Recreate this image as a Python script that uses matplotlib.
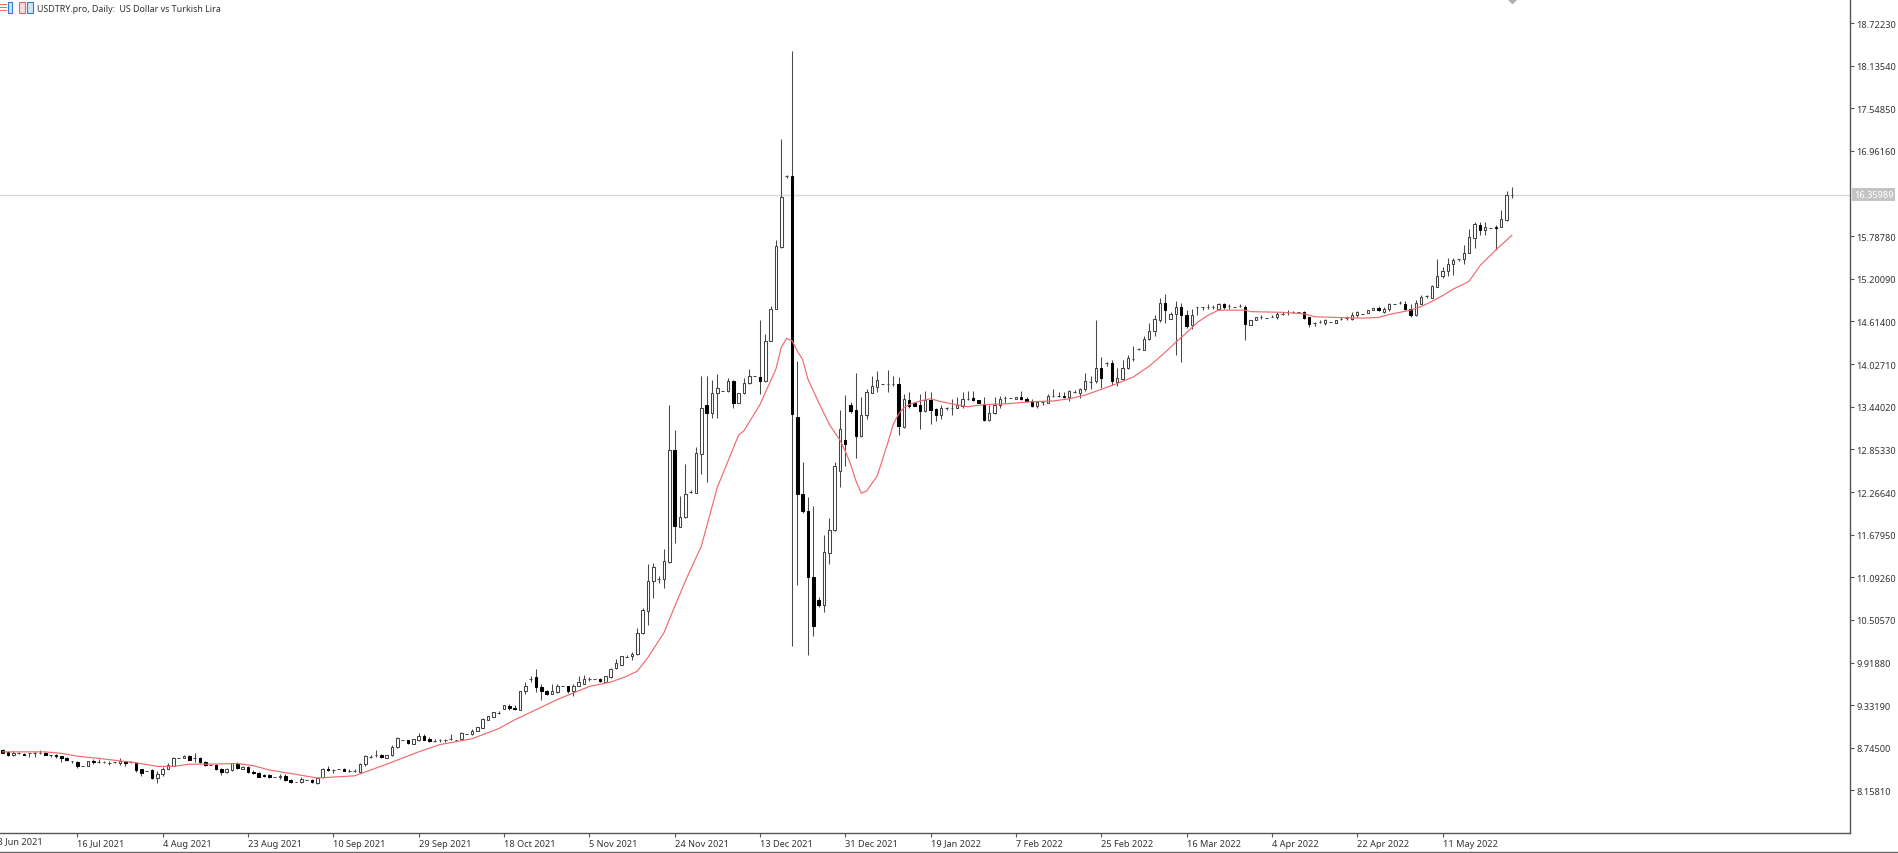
import matplotlib
matplotlib.use("Agg")
import matplotlib.pyplot as plt
from matplotlib.lines import Line2D
from matplotlib.patches import Rectangle

plot_fname = "out.png"

# daily candles, one value per bar
opens = [8.71, 8.69, 8.65, 8.68, 8.66, 8.67, 8.68, 8.68, 8.68, 8.64, 8.65, 8.63, 8.61, 8.56, 8.55, 8.50, 8.49, 8.57, 8.55, 8.55,
         8.54, 8.55, 8.54, 8.56, 8.55, 8.54, 8.45, 8.43, 8.44, 8.33, 8.38, 8.46, 8.50, 8.61, 8.60, 8.63, 8.60, 8.61, 8.55, 8.51,
         8.51, 8.45, 8.41, 8.44, 8.52, 8.45, 8.48, 8.41, 8.40, 8.37, 8.37, 8.34, 8.34, 8.36, 8.30, 8.27, 8.27, 8.30, 8.30, 8.26,
         8.34, 8.46, 8.44, 8.45, 8.46, 8.43, 8.42, 8.41, 8.52, 8.62, 8.64, 8.65, 8.60, 8.64, 8.75, 8.86, 8.85, 8.80, 8.86, 8.91,
         8.87, 8.84, 8.85, 8.85, 8.87, 8.86, 8.87, 8.93, 8.93, 8.98, 9.02, 9.13, 9.17, 9.23, 9.28, 9.32, 9.30, 9.27, 9.53, 9.69,
         9.72, 9.58, 9.53, 9.49, 9.52, 9.59, 9.59, 9.53, 9.59, 9.63, 9.69, 9.69, 9.69, 9.65, 9.72, 9.85, 9.89, 10.00, 10.01, 10.04,
         10.32, 10.63, 11.04, 11.07, 11.07, 11.31, 12.85, 11.79, 11.92, 12.26, 12.25, 12.79, 13.46, 13.35, 13.63, 13.66, 13.66, 13.79, 13.49, 13.63,
         13.77, 13.86, 13.85, 13.79, 14.35, 14.78, 15.64, 16.61, 16.61, 13.30, 12.24, 12.01, 11.09, 10.78, 10.71, 11.43, 11.74, 12.56, 12.98, 13.47,
         13.39, 13.04, 13.33, 13.63, 13.71, 13.76, 13.76, 13.76, 13.75, 13.16, 13.54, 13.49, 13.46, 13.38, 13.53, 13.41, 13.32, 13.42, 13.43, 13.43,
         13.45, 13.55, 13.56, 13.53, 13.47, 13.26, 13.35, 13.46, 13.56, 13.56, 13.55, 13.58, 13.55, 13.52, 13.45, 13.50, 13.49, 13.59, 13.59, 13.59,
         13.57, 13.64, 13.63, 13.68, 13.78, 13.80, 13.98, 14.04, 14.04, 13.78, 13.82, 13.97, 14.10, 14.24, 14.22, 14.37, 14.48, 14.64, 14.87, 14.65,
         14.72, 14.81, 14.71, 14.56, 14.82, 14.81, 14.81, 14.81, 14.79, 14.85, 14.83, 14.82, 14.83, 14.81, 14.57, 14.64, 14.68, 14.66, 14.68, 14.67,
         14.72, 14.74, 14.74, 14.74, 14.74, 14.67, 14.59, 14.61, 14.59, 14.61, 14.60, 14.65, 14.66, 14.65, 14.70, 14.72, 14.73, 14.77, 14.80, 14.75,
         14.78, 14.86, 14.87, 14.86, 14.78, 14.70, 14.85, 14.96, 14.94, 15.09, 15.24, 15.31, 15.41, 15.47, 15.47, 15.56, 15.77, 15.94, 15.88, 15.90,
         15.92, 15.91, 16.01, 16.36]
highs = [8.73, 8.70, 8.70, 8.69, 8.67, 8.67, 8.70, 8.71, 8.69, 8.64, 8.66, 8.63, 8.62, 8.57, 8.56, 8.50, 8.57, 8.59, 8.59, 8.56,
         8.56, 8.55, 8.61, 8.57, 8.57, 8.55, 8.46, 8.43, 8.46, 8.42, 8.48, 8.53, 8.62, 8.61, 8.64, 8.65, 8.68, 8.62, 8.57, 8.51,
         8.52, 8.47, 8.47, 8.54, 8.55, 8.50, 8.49, 8.44, 8.41, 8.39, 8.39, 8.34, 8.38, 8.38, 8.32, 8.27, 8.35, 8.30, 8.31, 8.34,
         8.47, 8.50, 8.45, 8.45, 8.47, 8.46, 8.45, 8.54, 8.64, 8.64, 8.71, 8.66, 8.64, 8.78, 8.89, 8.86, 8.86, 8.87, 8.95, 8.93,
         8.89, 8.87, 8.87, 8.87, 8.93, 8.86, 8.96, 8.93, 9.00, 9.03, 9.16, 9.18, 9.24, 9.25, 9.33, 9.35, 9.34, 9.53, 9.65, 9.73,
         9.83, 9.62, 9.54, 9.63, 9.63, 9.59, 9.60, 9.62, 9.74, 9.75, 9.72, 9.69, 9.71, 9.73, 9.85, 9.97, 10.01, 10.02, 10.06, 10.40,
         10.67, 11.28, 11.29, 11.11, 11.48, 13.47, 13.12, 12.21, 12.65, 12.29, 12.89, 13.86, 13.87, 13.81, 13.89, 13.66, 13.84, 13.81, 13.63, 13.83,
         13.96, 13.86, 14.63, 14.44, 14.83, 15.73, 17.13, 16.63, 18.34, 14.07, 12.68, 12.20, 12.08, 10.82, 11.67, 11.91, 12.68, 13.40, 13.60, 13.50,
         13.91, 13.58, 13.69, 13.86, 13.93, 13.76, 13.94, 13.86, 13.85, 13.61, 13.64, 13.49, 13.61, 13.66, 13.64, 13.43, 13.47, 13.44, 13.55, 13.58,
         13.64, 13.66, 13.66, 13.53, 13.57, 13.46, 13.58, 13.59, 13.59, 13.56, 13.58, 13.66, 13.58, 13.55, 13.52, 13.52, 13.61, 13.68, 13.64, 13.64,
         13.67, 13.67, 13.70, 13.91, 13.87, 14.63, 14.12, 14.05, 14.09, 13.97, 14.09, 14.15, 14.28, 14.25, 14.42, 14.60, 14.71, 14.94, 14.99, 14.74,
         14.90, 14.87, 14.77, 14.79, 14.82, 14.82, 14.85, 14.84, 14.87, 14.87, 14.85, 14.82, 14.86, 14.84, 14.64, 14.68, 14.70, 14.66, 14.71, 14.74,
         14.75, 14.77, 14.76, 14.74, 14.76, 14.68, 14.61, 14.64, 14.65, 14.61, 14.64, 14.67, 14.69, 14.74, 14.76, 14.72, 14.77, 14.80, 14.83, 14.81,
         14.87, 14.86, 14.89, 14.90, 14.85, 14.91, 14.98, 14.98, 15.11, 15.47, 15.37, 15.49, 15.49, 15.48, 15.66, 15.89, 15.99, 15.98, 15.99, 15.90,
         15.94, 16.15, 16.41, 16.47]
lows = [8.67, 8.63, 8.63, 8.66, 8.64, 8.62, 8.62, 8.66, 8.64, 8.62, 8.61, 8.55, 8.56, 8.53, 8.47, 8.49, 8.49, 8.52, 8.53, 8.53,
        8.51, 8.54, 8.51, 8.49, 8.53, 8.41, 8.36, 8.43, 8.31, 8.26, 8.36, 8.45, 8.49, 8.61, 8.60, 8.58, 8.55, 8.53, 8.50, 8.51,
        8.44, 8.37, 8.40, 8.43, 8.46, 8.45, 8.40, 8.38, 8.35, 8.35, 8.33, 8.34, 8.32, 8.29, 8.26, 8.27, 8.26, 8.30, 8.26, 8.25,
        8.33, 8.42, 8.40, 8.45, 8.42, 8.41, 8.41, 8.40, 8.50, 8.61, 8.62, 8.61, 8.60, 8.63, 8.74, 8.86, 8.80, 8.80, 8.84, 8.85,
        8.82, 8.82, 8.83, 8.83, 8.85, 8.86, 8.85, 8.93, 8.92, 8.98, 9.02, 9.13, 9.17, 9.21, 9.28, 9.27, 9.27, 9.27, 9.48, 9.65,
        9.52, 9.41, 9.47, 9.48, 9.50, 9.59, 9.50, 9.46, 9.59, 9.63, 9.66, 9.69, 9.65, 9.65, 9.71, 9.83, 9.89, 9.99, 9.95, 10.02,
        10.31, 10.43, 10.81, 11.02, 10.94, 11.29, 11.57, 11.79, 11.91, 12.25, 12.25, 12.51, 12.41, 13.29, 13.29, 13.66, 13.64, 13.43, 13.49, 13.61,
        13.76, 13.86, 13.61, 13.78, 14.34, 14.78, 15.63, 16.59, 10.15, 10.99, 11.98, 10.03, 10.29, 10.69, 10.61, 11.27, 11.73, 12.33, 12.63, 13.36,
        12.74, 13.02, 13.27, 13.63, 13.64, 13.76, 13.64, 13.73, 13.05, 13.15, 13.43, 13.45, 13.13, 13.37, 13.20, 13.25, 13.27, 13.40, 13.32, 13.42,
        13.43, 13.53, 13.52, 13.49, 13.25, 13.25, 13.34, 13.43, 13.49, 13.56, 13.55, 13.54, 13.51, 13.44, 13.43, 13.46, 13.49, 13.57, 13.57, 13.56,
        13.52, 13.63, 13.56, 13.66, 13.69, 13.77, 13.70, 14.00, 13.74, 13.73, 13.81, 13.96, 14.07, 14.22, 14.22, 14.36, 14.42, 14.61, 14.60, 14.65,
        14.15, 14.06, 14.52, 14.51, 14.70, 14.77, 14.79, 14.78, 14.77, 14.79, 14.78, 14.82, 14.81, 14.36, 14.57, 14.64, 14.65, 14.66, 14.67, 14.65,
        14.70, 14.70, 14.73, 14.74, 14.65, 14.54, 14.55, 14.59, 14.56, 14.61, 14.60, 14.64, 14.64, 14.64, 14.68, 14.72, 14.73, 14.77, 14.76, 14.73,
        14.76, 14.86, 14.85, 14.77, 14.67, 14.69, 14.85, 14.94, 14.94, 15.09, 15.21, 15.24, 15.25, 15.45, 15.41, 15.55, 15.62, 15.81, 15.81, 15.90,
        15.60, 15.91, 16.00, 16.32]
closes = [8.68, 8.65, 8.68, 8.68, 8.65, 8.67, 8.68, 8.68, 8.64, 8.64, 8.63, 8.61, 8.58, 8.56, 8.49, 8.50, 8.57, 8.55, 8.55, 8.55,
          8.54, 8.55, 8.57, 8.54, 8.55, 8.44, 8.40, 8.43, 8.33, 8.39, 8.46, 8.51, 8.61, 8.61, 8.63, 8.58, 8.60, 8.55, 8.51, 8.51,
          8.45, 8.41, 8.45, 8.53, 8.47, 8.48, 8.41, 8.40, 8.35, 8.36, 8.34, 8.34, 8.36, 8.30, 8.28, 8.27, 8.31, 8.30, 8.27, 8.33,
          8.46, 8.44, 8.44, 8.45, 8.43, 8.43, 8.42, 8.52, 8.63, 8.62, 8.64, 8.62, 8.64, 8.76, 8.88, 8.86, 8.81, 8.87, 8.91, 8.86,
          8.84, 8.84, 8.85, 8.85, 8.87, 8.86, 8.95, 8.93, 8.98, 9.03, 9.14, 9.18, 9.24, 9.23, 9.33, 9.29, 9.28, 9.53, 9.59, 9.69,
          9.58, 9.53, 9.49, 9.53, 9.60, 9.59, 9.53, 9.60, 9.65, 9.69, 9.69, 9.69, 9.66, 9.73, 9.83, 9.91, 10.01, 10.00, 10.04, 10.33,
          10.64, 11.04, 11.24, 11.07, 11.32, 12.85, 11.80, 11.92, 12.24, 12.26, 12.80, 13.43, 13.35, 13.63, 13.70, 13.66, 13.79, 13.49, 13.63, 13.77,
          13.86, 13.86, 13.80, 14.35, 14.79, 15.65, 16.33, 16.61, 13.34, 12.24, 12.00, 11.09, 10.42, 10.71, 11.44, 11.75, 12.63, 13.14, 12.93, 13.38,
          13.04, 13.33, 13.64, 13.72, 13.81, 13.76, 13.76, 13.76, 13.17, 13.55, 13.45, 13.45, 13.38, 13.53, 13.40, 13.33, 13.43, 13.42, 13.43, 13.46,
          13.55, 13.55, 13.54, 13.49, 13.26, 13.35, 13.47, 13.55, 13.56, 13.56, 13.58, 13.55, 13.52, 13.45, 13.50, 13.50, 13.59, 13.59, 13.59, 13.57,
          13.66, 13.64, 13.68, 13.79, 13.78, 13.98, 13.83, 14.04, 13.80, 13.83, 13.98, 14.11, 14.10, 14.24, 14.37, 14.48, 14.65, 14.87, 14.77, 14.72,
          14.81, 14.71, 14.55, 14.71, 14.82, 14.81, 14.81, 14.81, 14.85, 14.82, 14.83, 14.82, 14.83, 14.58, 14.64, 14.68, 14.68, 14.66, 14.68, 14.72,
          14.72, 14.74, 14.75, 14.74, 14.66, 14.58, 14.59, 14.61, 14.64, 14.61, 14.64, 14.65, 14.66, 14.70, 14.75, 14.72, 14.77, 14.80, 14.77, 14.79,
          14.85, 14.86, 14.87, 14.78, 14.71, 14.87, 14.95, 14.96, 15.10, 15.24, 15.31, 15.41, 15.46, 15.47, 15.56, 15.78, 15.96, 15.88, 15.91, 15.90,
          15.90, 16.02, 16.36, 16.36]

# red moving average, read at these bars
ma_bars = [0, 8, 11, 14, 18, 25, 29, 32, 35, 38, 44, 47, 50, 55, 59, 66, 72, 78, 82, 88, 93, 96, 100, 104, 107, 110, 114, 117, 119, 121,
           124, 125, 128, 131, 134, 138, 139, 142, 145, 146, 147, 148, 149, 150, 151, 153, 155, 157, 158, 159, 160, 161, 162, 164, 165, 166, 167, 168, 169, 170,
           172, 174, 176, 178, 181, 184, 188, 193, 197, 200, 203, 206, 209, 212, 215, 218, 220, 222, 224, 226, 228, 233, 234, 240, 244, 246, 250, 255, 258, 260,
           264, 266, 268, 270, 272, 274, 275, 277, 280, 283]
ma_values = [8.69, 8.69, 8.67, 8.63, 8.60, 8.54, 8.49, 8.49, 8.52, 8.52, 8.53, 8.50, 8.44, 8.38, 8.33, 8.36, 8.52, 8.69, 8.79, 8.87, 9.01, 9.13, 9.27, 9.41, 9.50, 9.59, 9.65, 9.73, 9.80, 9.99,
             10.33, 10.51, 11.04, 11.52, 12.33, 13.05, 13.11, 13.47, 13.96, 14.26, 14.38, 14.35, 14.21, 14.09, 13.82, 13.50, 13.20, 12.98, 12.83, 12.65, 12.42, 12.25, 12.28, 12.49, 12.72, 12.95, 13.20, 13.34, 13.43, 13.47,
             13.52, 13.55, 13.51, 13.48, 13.44, 13.47, 13.48, 13.51, 13.52, 13.55, 13.60, 13.68, 13.76, 13.85, 14.00, 14.19, 14.33, 14.46, 14.60, 14.70, 14.77, 14.77, 14.75, 14.74, 14.72, 14.68, 14.67, 14.66, 14.67, 14.71,
             14.77, 14.82, 14.89, 14.97, 15.06, 15.13, 15.17, 15.38, 15.60, 15.80]

last_price = 16.35989

price_ticks = [8.1581, 8.7450, 9.3319, 9.9188, 10.5057, 11.0926, 11.6795, 12.2664, 12.8533, 13.4402,
               14.0271, 14.6140, 15.2009, 15.7878, 16.9616, 17.5485, 18.1354, 18.7223]
date_labels = ["16 Jul 2021", "4 Aug 2021", "23 Aug 2021", "10 Sep 2021", "29 Sep 2021",
               "18 Oct 2021", "5 Nov 2021", "24 Nov 2021", "13 Dec 2021", "31 Dec 2021", "19 Jan 2022",
               "7 Feb 2022", "25 Feb 2022", "16 Mar 2022", "4 Apr 2022", "22 Apr 2022", "11 May 2022"]
date_bars = [14, 30, 46, 62, 78, 94, 110, 126, 142, 158, 174, 190, 206, 222, 238, 254, 270]

plt.rcParams["font.family"] = ["Noto Sans", "DejaVu Sans"]

W, H = 1899, 854
fig = plt.figure(figsize=(W / 100, H / 100), dpi=100)
ax = fig.add_axes([0, 20 / H, 1850 / W, 834 / H])
bars = list(range(len(opens)))

# wicks, then bodies
ax.vlines(bars, lows, highs, color="#484848", linewidth=0.75, zorder=2)
for i in bars:
    o, c = opens[i], closes[i]
    down = c < o
    ax.bar(i, abs(c - o), bottom=min(o, c), width=0.46, facecolor="black" if down else "white",
           edgecolor="black" if down else "#444444", linewidth=0.75, zorder=3)

ax.plot(ma_bars, ma_values, color="#ee6a6e", linewidth=0.85, zorder=4)
ax.axhline(last_price, color="#d9d9d9", linewidth=1, zorder=1)

# little gray alert marker cut by the top edge
ax.plot([283], [19.053], marker="D", markersize=4, color="#b0b0b0", zorder=5)

for side in ["top", "left"]:
    ax.spines[side].set_visible(False)
for side in ["right", "bottom"]:
    ax.spines[side].set_color("#555555")
    ax.spines[side].set_linewidth(1)

ax.yaxis.tick_right()
ax.set_yticks(price_ticks)
ax.set_yticklabels(["%.5f" % p for p in price_ticks])
ax.tick_params(axis="y", length=3, width=0.8, color="#555555", labelsize=6.6, labelcolor="#333333", pad=1.5)

ax.set_xticks(date_bars)
ax.set_xticklabels(date_labels, ha="left")
ax.tick_params(axis="x", length=3, width=0.8, color="#555555", labelsize=6.6, labelcolor="#333333", pad=1)

# limits go after the ticks, set_xticks would widen them
ax.set_xlim(-0.5, 346.4)
ax.set_ylim(7.573, 19.053)

# first date sits left of the axis, so its first digit is cut by the image edge
fig.text(-8 / W, 1 - 842 / H, "28 Jun 2021", fontsize=6.6, color="#333333", va="center", ha="left")

ax.text(1.002, last_price, "%.5f" % last_price, transform=ax.get_yaxis_transform(), color="white", fontsize=6.6,
        va="center", ha="left", bbox=dict(facecolor="#c4c4c4", edgecolor="none", pad=1.5), zorder=6, clip_on=False)

# bottom frame line
fig.add_artist(Line2D([0, 1], [1 / H, 1 / H], color="#666666", linewidth=1))

# title and the two small toolbar icons
fig.text(37 / W, 1 - 9 / H, "USDTRY.pro, Daily:  US Dollar vs Turkish Lira", fontsize=6.4, color="#333333",
         va="center", ha="left")
for k, col in enumerate(["#e8704a", "#e8704a", "#e8704a"]):
    fig.add_artist(Rectangle((0, 1 - (6 + k * 3) / H), 7 / W, 1.5 / H, facecolor=col, edgecolor="none"))
fig.add_artist(Rectangle((8 / W, 1 - 14 / H), 4 / W, 11 / H, facecolor="#cfe4f7", edgecolor="#2f7fc8", linewidth=0.8))
fig.add_artist(Rectangle((19 / W, 1 - 14 / H), 6 / W, 11 / H, facecolor="#fbdcdc", edgecolor="#e06a6a", linewidth=0.8))
fig.add_artist(Rectangle((27 / W, 1 - 14 / H), 6 / W, 11 / H, facecolor="#cfe4f7", edgecolor="#2f7fc8", linewidth=0.8))

plt.savefig(plot_fname, dpi=100)
